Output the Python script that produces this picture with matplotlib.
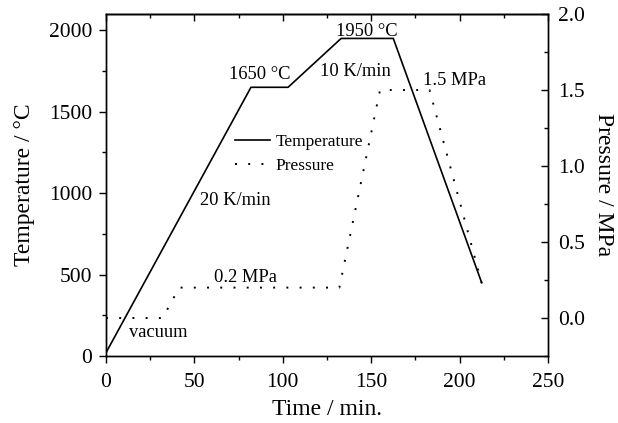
import matplotlib
matplotlib.use('Agg')
import matplotlib.pyplot as plt
from matplotlib.ticker import MultipleLocator

plt.rcParams['font.family'] = ['Liberation Serif', 'DejaVu Serif']

# heating program
temp_time = [0, 82, 103, 133, 162.5, 212.5]
temp_vals = [20, 1650, 1650, 1950, 1950, 450]

press_time = [0, 32, 41.5, 132, 155, 183, 212.5]
press_vals = [0.0, 0.0, 0.2, 0.2, 1.5, 1.5, 0.23]

notes = ['1650 °C', '1950 °C', '10 K/min', '1.5 MPa', '20 K/min', '0.2 MPa', 'vacuum']
note_x = [87, 147.5, 141, 197, 73, 79, 29.5]
note_y = [1730, 1994, 1744, 1693, 957, 479, 147]

fig = plt.figure(figsize=(6.18, 4.23), dpi=100)
ax = fig.add_axes([0.1715, 0.1584, 0.7152, 0.8085])
ax2 = ax.twinx()

l1, = ax.plot(temp_time, temp_vals, color='black', lw=1.2, label='Temperature')
l2, = ax2.plot(press_time, press_vals, color='black', lw=1.4,
               linestyle=(0, (1, 5.8)), label='Pressure')

ax.set_xlim(0, 250)
ax.set_ylim(0, 2100)
ax2.set_ylim(-0.25, 2.0)

ax.xaxis.set_major_locator(MultipleLocator(50))
ax.xaxis.set_minor_locator(MultipleLocator(25))
ax.yaxis.set_major_locator(MultipleLocator(500))
ax.yaxis.set_minor_locator(MultipleLocator(250))
ax2.yaxis.set_major_locator(MultipleLocator(0.5))
ax2.yaxis.set_minor_locator(MultipleLocator(0.25))

ax.tick_params(which='major', direction='out', length=5, width=1, labelsize=15.5, pad=5)
ax.tick_params(axis='x', which='major', pad=7.5)
ax.tick_params(which='minor', direction='out', length=3, width=1)
ax2.tick_params(which='major', direction='in', length=5, width=1, labelsize=15.5, pad=7)
ax2.tick_params(which='minor', direction='in', length=3, width=1)

top = ax.secondary_xaxis('top')
top.xaxis.set_major_locator(MultipleLocator(50))
top.xaxis.set_minor_locator(MultipleLocator(25))
top.tick_params(which='major', direction='in', length=5, width=1, labeltop=False)
top.tick_params(which='minor', direction='in', length=3, width=1)

for a in (ax, ax2):
    for s in a.spines.values():
        s.set_linewidth(1.0)
top.spines['top'].set_linewidth(1.0)

ax.set_xlabel('Time / min.', fontsize=17, labelpad=5)
ax.set_ylabel('Temperature / °C', fontsize=17, labelpad=10)
ax2.set_ylabel('Pressure / MPa', fontsize=17, rotation=270, labelpad=21)

for txt, x, y in zip(notes, note_x, note_y):
    ax.text(x, y, txt, fontsize=13.3, ha='center', va='center')

ax2.legend(handles=[l1, l2], loc='center left', bbox_to_anchor=(0.292, 0.590),
           frameon=False, fontsize=12.5, handlelength=2.0, handletextpad=0.35,
           borderpad=0, borderaxespad=0, labelspacing=0.45)

fig.savefig('out.png', dpi=100)
